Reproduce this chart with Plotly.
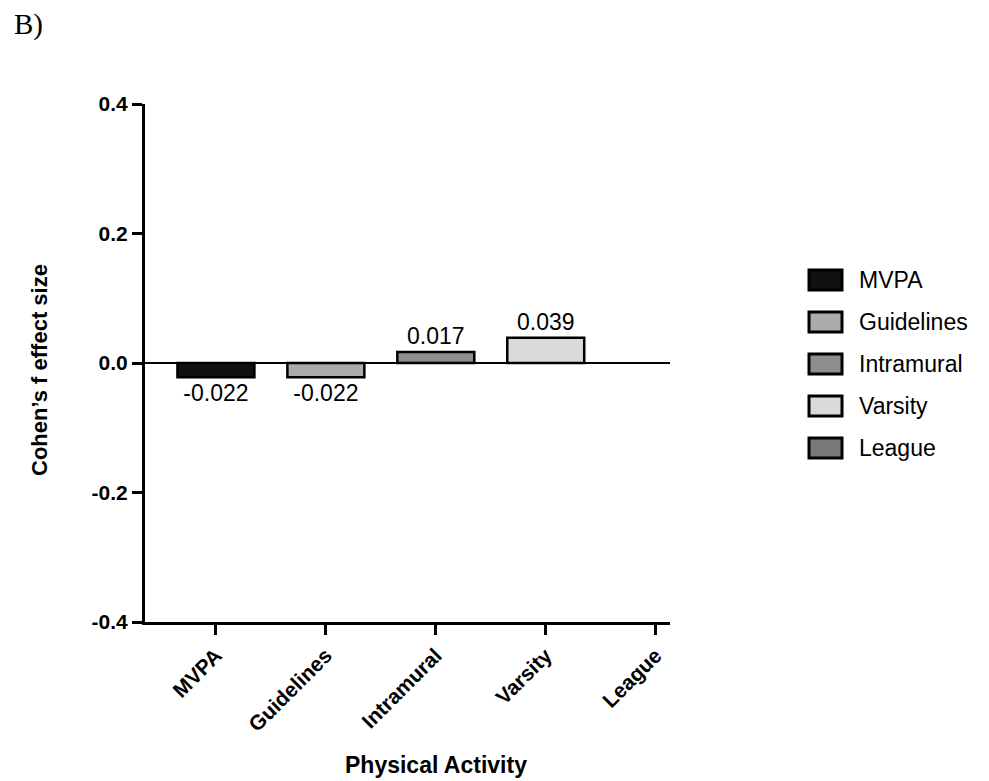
import plotly.graph_objects as go

categories = ["MVPA", "Guidelines", "Intramural", "Varsity", "League"]
effect_sizes = [-0.022, -0.022, 0.017, 0.039, None]
bar_labels = ["-0.022", "-0.022", "0.017", "0.039", ""]
bar_colors = ["#111111", "#ababab", "#8e8e8e", "#dadada", "#787878"]
y_ticks = [-0.4, -0.2, 0.0, 0.2, 0.4]
y_tick_text = ["-0.4", "-0.2", "0.0", "0.2", "0.4"]

FONT = "Liberation Sans, Arial, sans-serif"
OFF = 8  # page body margin
PL, PR, PT, PB = 145, 670, 104, 622  # plot area in page pixels
W, H = 989 - OFF, 781 - OFF
L, T = PL - OFF, PT - OFF
R = W - (PR - OFF)
B = H - (PB - OFF)
pw, ph = PR - PL, PB - PT

def px_x(x):
    return (x - PL) / pw

def px_y(y):
    return (PB - y) / ph

fig = go.Figure()
fig.add_trace(go.Bar(
    x=list(range(len(categories))),
    y=effect_sizes,
    width=0.7,
    marker=dict(color=bar_colors, line=dict(color="black", width=2.5)),
    text=bar_labels,
    textposition="outside",
    textfont=dict(family=FONT, size=23, color="black"),
    cliponaxis=False,
    showlegend=False,
))

shapes = []
annotations = []
# custom legend
for i, (cat, col) in enumerate(zip(categories, bar_colors)):
    cy = 280 + i * 42
    shapes.append(dict(type="rect", xref="paper", yref="paper",
                       x0=px_x(809), x1=px_x(842), y0=px_y(cy - 10), y1=px_y(cy + 10),
                       fillcolor=col, line=dict(color="black", width=3)))
    annotations.append(dict(xref="paper", yref="paper", x=px_x(857), y=px_y(cy),
                            text=cat, showarrow=False, xanchor="left", yanchor="middle",
                            font=dict(family=FONT, size=23, color="black")))

annotations.append(dict(xref="paper", yref="paper", x=px_x(39), y=px_y(370),
                        text="Cohen’s f effect size", textangle=-90, showarrow=False,
                        xanchor="center", yanchor="middle",
                        font=dict(family=FONT, size=22, color="black", weight="bold")))
annotations.append(dict(xref="paper", yref="paper", x=px_x(436), y=px_y(765),
                        text="Physical Activity", showarrow=False,
                        xanchor="center", yanchor="middle",
                        font=dict(family=FONT, size=23, color="black", weight="bold")))
annotations.append(dict(xref="paper", yref="paper", x=px_x(12), y=px_y(25),
                        text="B)", showarrow=False, xanchor="left", yanchor="middle",
                        font=dict(family="Liberation Serif, Times New Roman, serif", size=29, color="black")))

fig.update_layout(
    width=W, height=H,
    margin=dict(l=L, r=R, t=T, b=B, autoexpand=False),
    plot_bgcolor="white", paper_bgcolor="white",
    shapes=shapes, annotations=annotations,
    showlegend=False,
    xaxis=dict(
        range=[-0.645, 4.13],
        tickmode="array", tickvals=list(range(len(categories))), ticktext=categories,
        tickangle=-45, automargin=False,
        tickfont=dict(family=FONT, size=21, color="black", weight="bold"),
        ticks="outside", ticklen=10, tickwidth=3, tickcolor="black",
        showline=True, linecolor="black", linewidth=3,
        showgrid=False, zeroline=False, fixedrange=True,
    ),
    yaxis=dict(
        range=[-0.4, 0.4], automargin=False,
        tickmode="array", tickvals=y_ticks, ticktext=y_tick_text,
        tickfont=dict(family=FONT, size=21, color="black", weight="bold"),
        ticks="outside", ticklen=10, tickwidth=3, tickcolor="black",
        showline=True, linecolor="black", linewidth=3,
        showgrid=False, zeroline=True, zerolinecolor="black", zerolinewidth=2,
    ),
)

fig.write_html("out.html")
